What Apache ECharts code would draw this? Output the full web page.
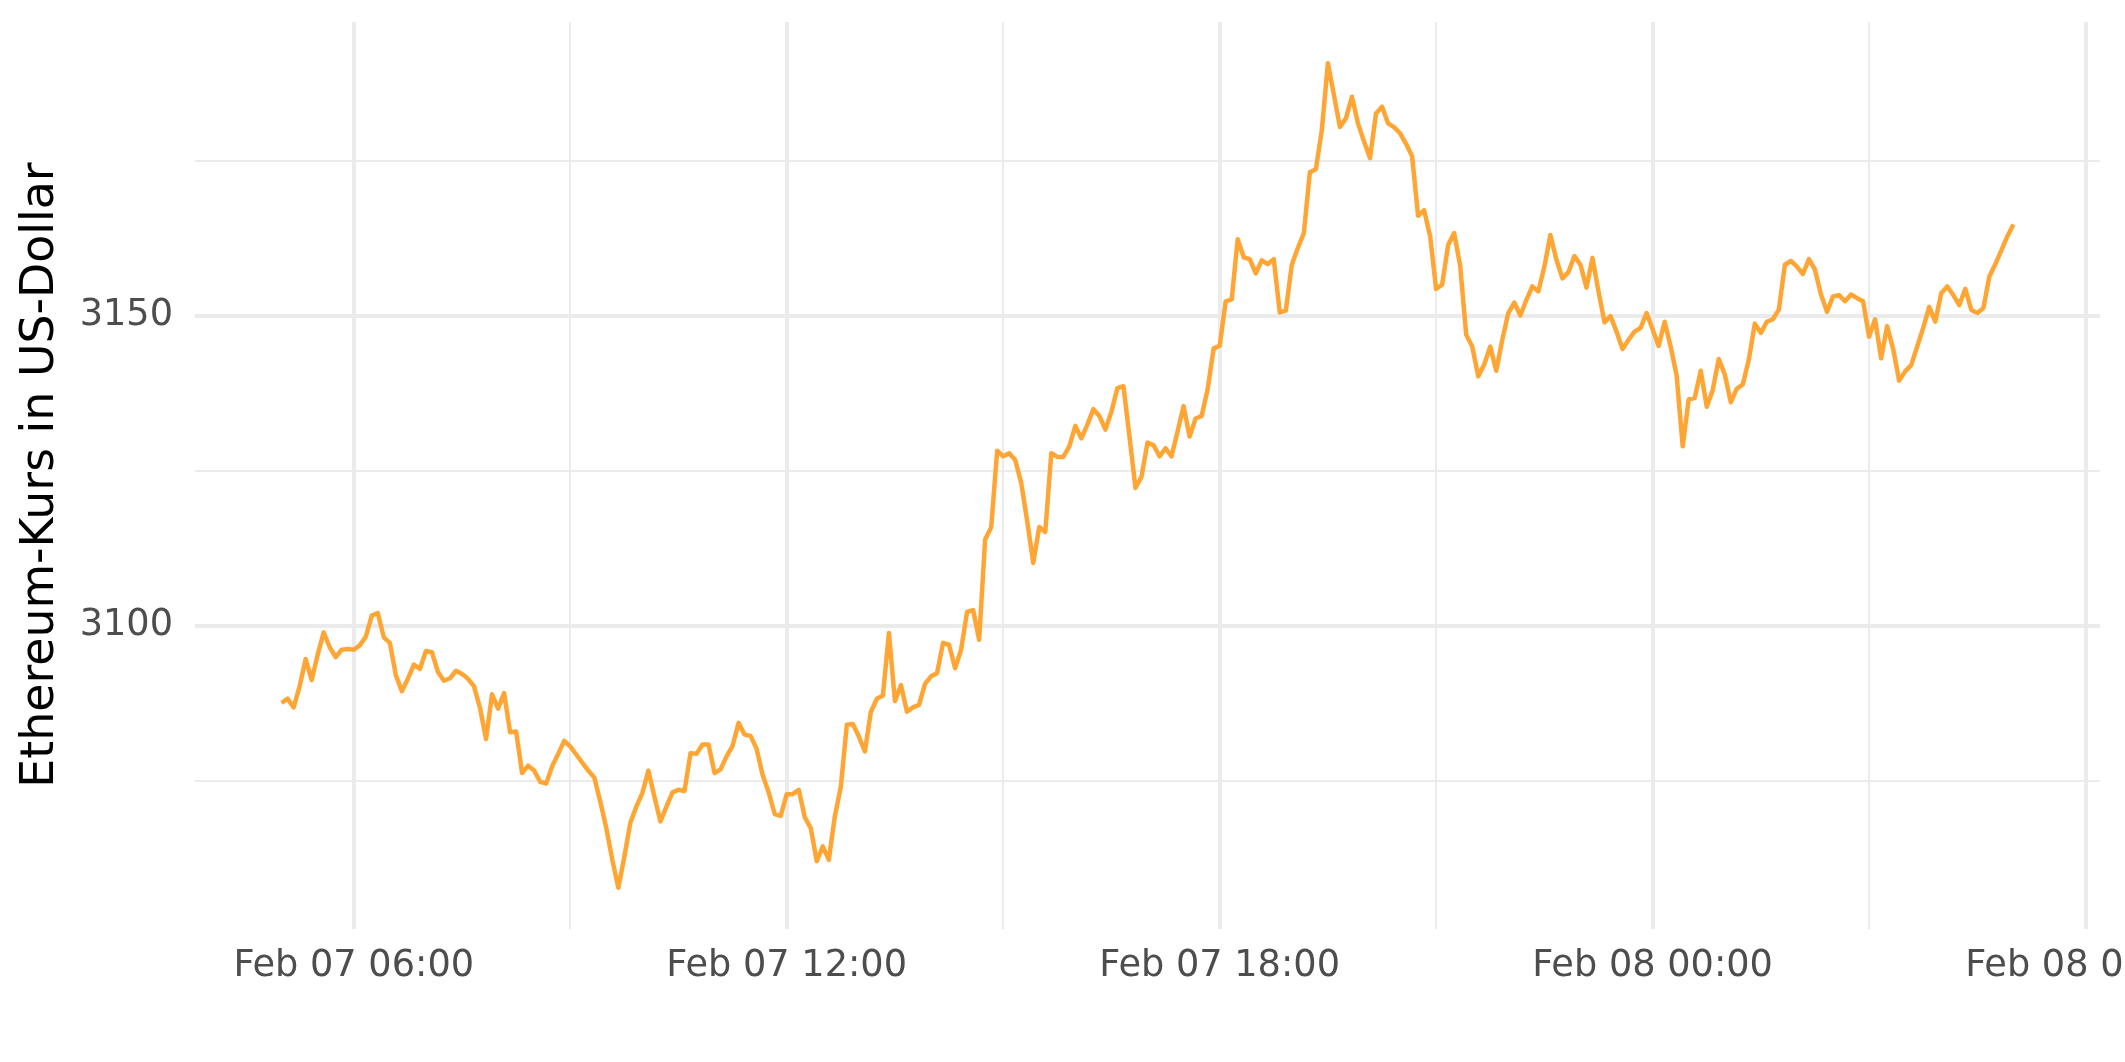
<!DOCTYPE html>
<html><head><meta charset="utf-8">
<script src="https://cdn.jsdelivr.net/npm/echarts@6/dist/echarts.min.js"></script>
<style>html,body{margin:0;padding:0;background:#fff}#c{width:2125px;height:1062px}</style>
</head><body><div id="c"></div>
<script>
// time of first sample (hours after Feb 07 00:00) and sampling step (5 minutes)
const startHour = 5;
const stepHours = 5 / 60;
const prices = [
3087.5,3088.2,3086.8,3090.2,3094.6,3091.2,3095.3,3098.9,3096.5,3094.9,
3096.1,3096.2,3096.1,3096.8,3098.2,3101.6,3102.0,3098.1,3097.2,3092.0,
3089.4,3091.4,3093.7,3093.0,3095.9,3095.7,3092.5,3091.1,3091.5,3092.7,
3092.2,3091.4,3090.2,3086.7,3081.7,3088.9,3086.6,3089.1,3082.8,3082.9,
3076.2,3077.4,3076.6,3074.8,3074.5,3077.3,3079.3,3081.4,3080.5,3079.2,
3077.9,3076.6,3075.5,3071.6,3067.3,3062.2,3057.7,3062.7,3068.2,3070.8,
3073.0,3076.6,3072.4,3068.4,3070.8,3073.1,3073.5,3073.3,3079.4,3079.3,
3080.8,3080.8,3076.2,3076.8,3078.9,3080.6,3084.3,3082.4,3082.2,3080.1,
3075.9,3073.1,3069.6,3069.3,3072.8,3072.8,3073.5,3069.1,3067.3,3062.0,
3064.4,3062.2,3069.2,3074.0,3084.0,3084.1,3082.1,3079.7,3086.1,3088.2,
3088.7,3098.8,3087.8,3090.4,3086.1,3086.8,3087.2,3090.6,3091.8,3092.3,
3097.2,3096.9,3093.1,3096.1,3102.2,3102.5,3097.7,3113.9,3115.8,3128.2,
3127.3,3127.8,3126.7,3123.0,3116.8,3110.1,3115.9,3115.1,3127.8,3127.2,
3127.2,3128.9,3132.2,3130.2,3132.4,3134.9,3133.8,3131.6,3134.5,3138.3,
3138.6,3130.5,3122.2,3124.0,3129.5,3129.1,3127.3,3128.6,3127.3,3131.3,
3135.4,3130.5,3133.4,3133.8,3138.1,3144.7,3145.1,3152.3,3152.6,3162.3,
3159.4,3159.1,3156.8,3158.9,3158.3,3159.1,3150.5,3150.8,3158.2,3160.9,
3163.3,3173.1,3173.6,3180.0,3190.7,3185.6,3180.4,3181.8,3185.3,3181.0,
3178.1,3175.4,3182.6,3183.7,3181.0,3180.4,3179.4,3177.7,3175.7,3166.1,
3167.0,3162.8,3154.3,3155.0,3161.4,3163.3,3158.0,3146.9,3145.0,3140.2,
3142.1,3145.0,3141.1,3146.1,3150.4,3152.1,3150.0,3152.5,3154.7,3153.9,
3157.9,3163.0,3159.0,3156.0,3157.0,3159.6,3158.2,3154.5,3159.3,3153.9,
3148.9,3149.9,3147.4,3144.6,3146.1,3147.4,3148.0,3150.4,3147.8,3145.1,
3149.0,3145.0,3140.3,3128.9,3136.5,3136.7,3141.1,3135.3,3138.0,3143.0,
3140.5,3136.0,3138.2,3138.9,3142.9,3148.7,3147.2,3149.0,3149.4,3151.0,
3158.2,3158.8,3157.9,3156.7,3159.1,3157.4,3153.4,3150.6,3153.1,3153.3,
3152.3,3153.4,3152.8,3152.3,3146.6,3149.4,3143.1,3148.3,3144.6,3139.5,
3141.0,3142.0,3145.0,3148.0,3151.4,3149.0,3153.6,3154.7,3153.3,3151.7,
3154.3,3150.9,3150.4,3151.2,3156.3,3158.3,3160.5,3162.8,3164.7
];
const xMajorHours = [6, 12, 18, 24, 30];
const xMajorLabels = ['Feb 07 06:00', 'Feb 07 12:00', 'Feb 07 18:00', 'Feb 08 00:00', 'Feb 08 06:00'];
const xMinorHours = [9, 15, 21, 27];
const yMajorValues = [3100, 3150];
const yMinorValues = [3075, 3125, 3175];
const yTitle = 'Ethereum-Kurs in US-Dollar';

const data = prices.map((p, i) => [startHour + i * stepHours, p]);
const xFirst = startHour, xLast = startHour + (prices.length - 1) * stepHours;
const xPad = (xLast - xFirst) * 0.05;
const pMin = Math.min(...prices), pMax = Math.max(...prices);
const yPad = (pMax - pMin) * 0.05;
const xMin = xFirst - xPad, xMax = xLast + xPad;
const yMin = pMin - yPad, yMax = pMax + yPad;

const FONT = 'DejaVu Sans';
const GRID = '#EBEBEB';

function xAxisDef(values, major) {
  return {
    type: 'value', min: xMin, max: xMax, position: 'bottom',
    axisLine: { show: false },
    axisTick: { show: false, customValues: values },
    axisLabel: major ? {
      customValues: values,
      formatter: v => xMajorLabels[xMajorHours.indexOf(Math.round(v))] || '',
      fontFamily: FONT, fontSize: 36.7, color: '#4D4D4D', margin: 19
    } : { show: false, customValues: values },
    splitLine: { show: true, lineStyle: { color: GRID, width: major ? 4 : 2 } }
  };
}
function yAxisDef(values, major) {
  return {
    type: 'value', min: yMin, max: yMax, position: 'left',
    axisLine: { show: false },
    axisTick: { show: false, customValues: values },
    axisLabel: major ? {
      customValues: values,
      formatter: v => String(Math.round(v)),
      fontFamily: FONT, fontSize: 36.7, color: '#4D4D4D', margin: 22
    } : { show: false, customValues: values },
    splitLine: { show: true, lineStyle: { color: GRID, width: major ? 4 : 2 } }
  };
}

const chart = echarts.init(document.getElementById('c'), null, { renderer: 'canvas' });
chart.setOption({
  animation: false,
  backgroundColor: '#ffffff',
  grid: { left: 195, right: 25, top: 22, bottom: 133, containLabel: false, outerBoundsMode: 'none' },
  xAxis: [xAxisDef(xMajorHours, true), xAxisDef(xMinorHours, false)],
  yAxis: [yAxisDef(yMajorValues, true), yAxisDef(yMinorValues, false)],
  graphic: [{
    type: 'text', x: 41, y: 475, rotation: Math.PI / 2,
    style: { text: yTitle, font: '45.8px "DejaVu Sans"', fill: '#000000', align: 'center', verticalAlign: 'middle' }
  }],
  series: [{
    type: 'line', data: data, xAxisIndex: 0, yAxisIndex: 0,
    showSymbol: false, symbol: 'none', z: 10,
    lineStyle: { color: '#FFA534', width: 4.5, join: 'round', cap: 'butt' }
  }]
});
</script></body></html>
